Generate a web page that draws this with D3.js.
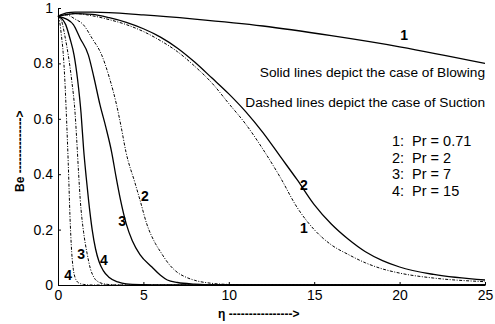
<!DOCTYPE html>
<html>
<head>
<meta charset="utf-8">
<script src="https://cdn.jsdelivr.net/npm/d3@7"></script>
<style>
  body { margin: 0; background: #fff; }
  text { font-family: Arial, "Liberation Sans", sans-serif; }
</style>
</head>
<body>
<div id="chart"></div>
<script>
// Starting parameters
var svgWidth = 495;
var svgHeight = 324;

var margin = { top: 8, right: 10, bottom: 39, left: 58 };

var width = svgWidth - margin.left - margin.right;
var height = svgHeight - margin.top - margin.bottom;

// Data: [eta, Be]
var blowPr071 = [[0,0.97],[0.5,0.982],[1,0.985],[2,0.985],[5,0.975],[8,0.96],[12,0.935],[16,0.9],[20,0.86],[25,0.80]];
var blowPr2 = [[0,0.97],[1,0.98],[2,0.977],[3,0.965],[4,0.948],[5,0.925],[6,0.895],[7,0.855],[8,0.805],[9,0.748],[10,0.69],[11,0.625],[12,0.55],[13,0.465],[14,0.38],[15,0.29],[16,0.22],[17,0.165],[18,0.12],[19,0.088],[20,0.065],[22,0.038],[25,0.018]];
var blowPr7 = [[0,0.97],[0.5,0.96],[0.9,0.94],[1.3,0.89],[1.78,0.83],[2.1,0.75],[2.46,0.65],[2.8,0.57],[3.14,0.48],[3.4,0.39],[3.65,0.31],[4,0.22],[4.35,0.16],[4.8,0.11],[5.5,0.065],[6,0.035],[6.4,0.018],[7,0.009],[8,0.003],[9,0],[25,0]];
var blowPr15 = [[0,0.97],[0.25,0.96],[0.45,0.94],[0.7,0.89],[0.94,0.83],[1.15,0.74],[1.35,0.62],[1.5,0.49],[1.65,0.39],[1.8,0.3],[2,0.2],[2.2,0.13],[2.4,0.085],[2.65,0.052],[3,0.027],[3.5,0.011],[4,0.004],[5,0.001],[6,0],[25,0]];

var suckPr071 = [[0,0.97],[1,0.98],[2,0.972],[3,0.958],[4,0.94],[5,0.915],[6,0.882],[7,0.842],[8,0.79],[9,0.73],[10,0.655],[11,0.58],[12,0.49],[13,0.39],[14,0.28],[15,0.2],[16,0.145],[17,0.11],[18,0.08],[19,0.058],[20,0.043],[22,0.025],[25,0.012]];
var suckPr2 = [[0,0.97],[0.5,0.975],[1,0.96],[1.48,0.94],[2,0.89],[2.56,0.83],[3,0.75],[3.43,0.65],[3.7,0.57],[3.98,0.48],[4.5,0.37],[4.8,0.307],[5.2,0.22],[5.7,0.15],[6,0.12],[6.5,0.075],[7,0.045],[7.5,0.028],[8,0.017],[9,0.006],[10,0.002],[12,0],[25,0]];
var suckPr7 = [[0,0.97],[0.2,0.955],[0.4,0.9],[0.6,0.83],[0.8,0.74],[1,0.62],[1.1,0.52],[1.2,0.41],[1.3,0.31],[1.5,0.19],[1.7,0.115],[1.9,0.058],[2.1,0.028],[2.4,0.01],[2.8,0.003],[3.5,0],[25,0]];
var suckPr15 = [[0,0.97],[0.1,0.95],[0.2,0.9],[0.3,0.84],[0.4,0.74],[0.5,0.6],[0.6,0.44],[0.7,0.25],[0.8,0.12],[0.9,0.055],[1,0.027],[1.2,0.008],[1.5,0.002],[2,0],[25,0]];

var xTicks = [0, 5, 10, 15, 20, 25];
var yTicks = [0, 0.2, 0.4, 0.6, 0.8, 1];

// Curve number labels: [eta, Be, text]
var curveLabels = [[20.26,0.903,'1'],[14.4,0.361,'2'],[14.4,0.206,'1'],[5.09,0.321,'2'],[3.75,0.231,'3'],[2.69,0.09,'4'],[1.35,0.112,'3'],[0.59,0.036,'4']];
var legendRows = ['1:  Pr = 0.71', '2:  Pr = 2', '3:  Pr = 7', '4:  Pr = 15'];
var notes = ['Solid lines depict the case of Blowing', 'Dashed lines depict the case of Suction'];

var svg = d3.select('#chart')
  .append('svg')
  .attr('width', svgWidth)
  .attr('height', svgHeight);

var chartGroup = svg.append('g')
  .attr('transform', `translate(${margin.left}, ${margin.top})`);

var xScale = d3.scaleLinear().domain([0, 25]).range([0, width]);
var yScale = d3.scaleLinear().domain([0, 1]).range([height, 0]);

var bottomAxis = d3.axisBottom(xScale).tickValues(xTicks).tickSizeInner(-3).tickSizeOuter(0).tickPadding(5).tickFormat(d3.format('d'));
var leftAxis = d3.axisLeft(yScale).tickValues(yTicks).tickSizeInner(-3).tickSizeOuter(0).tickPadding(5).tickFormat(d => d === 0 || d === 1 ? d : d.toFixed(1));

var line = d3.line()
  .x(d => xScale(d[0]))
  .y(d => yScale(d[1]))
  .curve(d3.curveMonotoneX);

[blowPr071, blowPr2, blowPr7, blowPr15].forEach(function(s) {
  chartGroup.append('path')
    .datum(s)
    .attr('d', line)
    .attr('fill', 'none')
    .attr('stroke', '#000')
    .attr('stroke-width', 1.3);
});

[suckPr071, suckPr2, suckPr7, suckPr15].forEach(function(s) {
  chartGroup.append('path')
    .datum(s)
    .attr('d', line)
    .attr('fill', 'none')
    .attr('stroke', '#000')
    .attr('stroke-width', 1)
    .attr('stroke-dasharray', '3,1.5,1,1.5');
});

var xAxis = chartGroup.append('g')
  .attr('transform', `translate(0, ${height})`)
  .call(bottomAxis);

var yAxis = chartGroup.append('g')
  .call(leftAxis);

[xAxis, yAxis].forEach(function(a) {
  a.selectAll('text').attr('font-size', '14px').attr('fill', '#000').attr('font-family', 'Arial, "Liberation Sans", sans-serif');
  a.selectAll('line').attr('stroke', '#000');
  a.select('.domain').attr('stroke', '#000');
});

// curve labels
chartGroup.selectAll('.curveLabel')
  .data(curveLabels)
  .enter()
  .append('text')
  .attr('x', d => xScale(d[0]))
  .attr('y', d => yScale(d[1]))
  .attr('dy', '0.36em')
  .attr('text-anchor', 'middle')
  .attr('font-size', '14px')
  .attr('font-weight', 'bold')
  .text(d => d[2]);

// notes
chartGroup.selectAll('.note')
  .data(notes)
  .enter()
  .append('text')
  .attr('x', xScale(25))
  .attr('y', (d, i) => yScale(i === 0 ? 0.751 : 0.643))
  .attr('text-anchor', 'end')
  .attr('font-size', '13.7px')
  .text(d => d);

// legend
chartGroup.selectAll('.legendRow')
  .data(legendRows)
  .enter()
  .append('text')
  .attr('x', xScale(19.55))
  .attr('y', (d, i) => yScale(0.502) + i * 16.7)
  .style('white-space', 'pre')
  .attr('font-size', '14.5px')
  .text(d => d);

// axis titles
svg.append('text')
  .attr('x', 218)
  .attr('y', 318)
  .attr('font-size', '12px')
  .attr('font-weight', 'bold')
  .text('η ---------------->');

svg.append('text')
  .attr('transform', `translate(24, 192) rotate(-90)`)
  .attr('font-size', '12px')
  .attr('font-weight', 'bold')
  .text('Be -------------->');
</script>
</body>
</html>
